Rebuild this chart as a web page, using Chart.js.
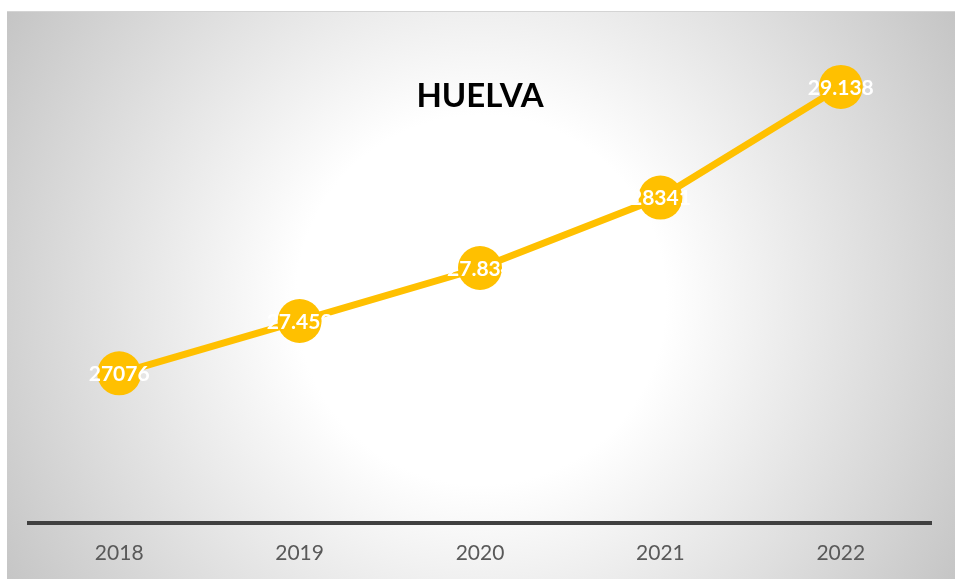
<!DOCTYPE html>
<html>
<head>
<meta charset="utf-8">
<style>
  html, body { margin: 0; padding: 0; background: #ffffff; }
  #wrap { width: 956px; height: 579px; position: relative; }
</style>
<script src="https://cdn.jsdelivr.net/npm/chart.js@4/dist/chart.umd.min.js"></script>
</head>
<body>
<div id="wrap"><canvas id="chart"></canvas></div>
<script>
const years = ['2018', '2019', '2020', '2021', '2022'];
const values = [27076, 27453, 27834, 28341, 29138];
const valueLabels = ['27076', '27.453', '27.834', '28341', '29.138'];
const chartTitle = 'HUELVA';

const YELLOW = '#FFC000';

// grey radial backdrop behind the whole chart
const backdrop = {
    id: 'backdrop',
    beforeDraw(chart) {
        const c = chart.ctx;
        const x0 = 7, y0 = 11, x1 = 955, y1 = 579;
        const g = c.createRadialGradient(481, 300, 0, 481, 300, 560);
        g.addColorStop(0, '#ffffff');
        g.addColorStop(0.33, '#ffffff');
        g.addColorStop(1, '#c4c4c4');
        c.save();
        c.fillStyle = g;
        c.fillRect(x0, y0, x1 - x0, y1 - y0);
        c.strokeStyle = '#d4d4d4';
        c.lineWidth = 1;
        c.beginPath();
        c.moveTo(x0, y0 + 0.5);
        c.lineTo(x1, y0 + 0.5);
        c.stroke();
        c.restore();
    }
};

// white value labels centred on each marker
const valueText = {
    id: 'valueText',
    afterDatasetsDraw(chart) {
        const c = chart.ctx;
        const meta = chart.getDatasetMeta(0);
        c.save();
        c.font = 'bold 21px Lato';
        c.fillStyle = '#ffffff';
        c.textAlign = 'center';
        c.textBaseline = 'middle';
        meta.data.forEach((pt, i) => {
            c.fillText(valueLabels[i], pt.x, pt.y + 1);
        });
        c.restore();
    }
};

new Chart(document.getElementById('chart'), {
    type: 'line',
    data: {
        labels: years,
        datasets: [{
            data: values,
            borderColor: YELLOW,
            backgroundColor: YELLOW,
            borderWidth: 7,
            pointRadius: 22,
            pointHoverRadius: 22,
            pointBorderWidth: 0,
            pointBackgroundColor: YELLOW,
            tension: 0,
            clip: false
        }]
    },
    options: {
        animation: false,
        responsive: true,
        maintainAspectRatio: false,
        layout: {
            padding: { left: 29, right: 25, top: 0, bottom: -5 }
        },
        plugins: {
            legend: { display: false },
            tooltip: { enabled: false },
            title: {
                display: true,
                text: chartTitle,
                color: '#000000',
                font: { family: 'Lato', size: 33, weight: 'bold' },
                padding: { top: 77, bottom: -80 }
            }
        },
        scales: {
            x: {
                offset: true,
                grid: { display: false, drawTicks: false },
                border: { display: true, color: '#404040', width: 4 },
                ticks: {
                    color: '#595959',
                    font: { family: 'Lato', size: 21 },
                    padding: 18
                }
            },
            y: {
                display: false,
                min: 26000,
                max: 29500
            }
        }
    },
    plugins: [backdrop, valueText]
});
</script>
</body>
</html>
